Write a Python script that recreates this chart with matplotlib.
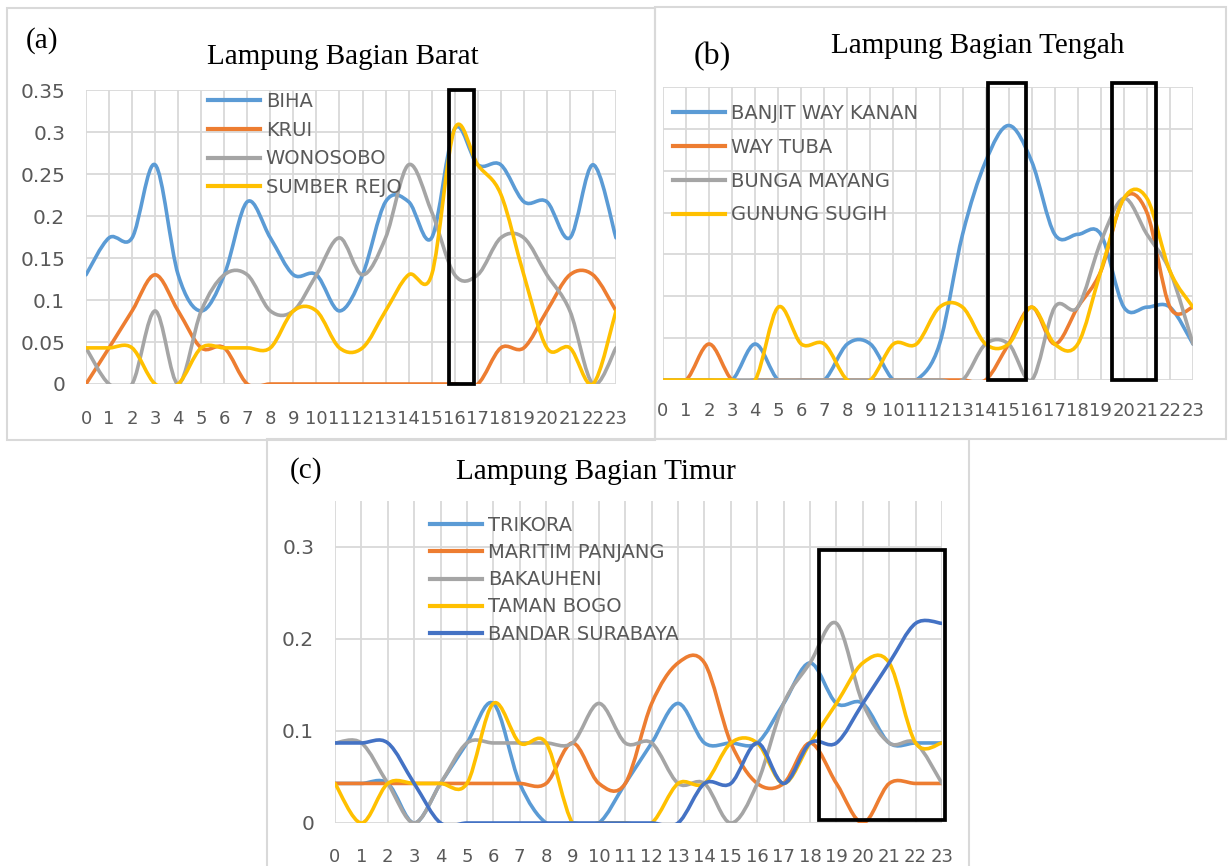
import matplotlib
matplotlib.use("Agg")
import matplotlib.pyplot as plt
import numpy as np
from matplotlib.path import Path
from matplotlib.patches import PathPatch, Rectangle
from matplotlib.lines import Line2D

HOURS = list(range(24))
HOUR_LABELS = [str(h) for h in HOURS]

# (a) Lampung Bagian Barat
BARAT_NAMES = ["BIHA", "KRUI", "WONOSOBO", "SUMBER REJO"]
BIHA = [0.13, 0.174, 0.174, 0.261, 0.13, 0.087, 0.13, 0.217, 0.174, 0.13, 0.13, 0.087,
        0.13, 0.217, 0.217, 0.174, 0.304, 0.261, 0.261, 0.217, 0.217, 0.174, 0.261, 0.174]
KRUI = [0, 0.043, 0.087, 0.13, 0.087, 0.043, 0.043, 0, 0, 0, 0, 0,
        0, 0, 0, 0, 0, 0, 0.043, 0.043, 0.087, 0.13, 0.13, 0.087]
WONOSOBO = [0.043, 0, 0, 0.087, 0, 0.087, 0.13, 0.13, 0.087, 0.087, 0.13, 0.174,
            0.13, 0.174, 0.261, 0.205, 0.13, 0.13, 0.174, 0.174, 0.13, 0.087, 0, 0.043]
SUMBER_REJO = [0.043, 0.043, 0.043, 0, 0, 0.043, 0.043, 0.043, 0.043, 0.087, 0.087, 0.043,
               0.043, 0.087, 0.13, 0.13, 0.304, 0.261, 0.226, 0.13, 0.043, 0.043, 0, 0.087]

# (b) Lampung Bagian Tengah
TENGAH_NAMES = ["BANJIT WAY KANAN", "WAY TUBA", "BUNGA MAYANG", "GUNUNG SUGIH"]
BANJIT = [0, 0, 0, 0, 0.043, 0, 0, 0, 0.043, 0.043, 0, 0,
          0.043, 0.174, 0.261, 0.304, 0.261, 0.174, 0.174, 0.174, 0.087, 0.087, 0.087, 0.043]
WAY_TUBA = [0, 0, 0.043, 0, 0, 0, 0, 0, 0, 0, 0, 0,
            0, 0, 0, 0.043, 0.087, 0.043, 0.087, 0.13, 0.217, 0.2, 0.087, 0.087]
BUNGA_MAYANG = [0, 0, 0, 0, 0, 0, 0, 0, 0, 0, 0, 0,
                0, 0, 0.043, 0.043, 0, 0.087, 0.087, 0.165, 0.217, 0.174, 0.13, 0.043]
GUNUNG_SUGIH = [0, 0, 0, 0, 0, 0.087, 0.043, 0.043, 0, 0, 0.043, 0.043,
                0.087, 0.087, 0.043, 0.043, 0.087, 0.043, 0.043, 0.13, 0.217, 0.217, 0.13, 0.087]

# (c) Lampung Bagian Timur
TIMUR_NAMES = ["TRIKORA", "MARITIM PANJANG", "BAKAUHENI", "TAMAN BOGO", "BANDAR SURABAYA"]
TRIKORA = [0.043, 0.043, 0.043, 0, 0.043, 0.087, 0.13, 0.043, 0, 0, 0, 0.043,
           0.087, 0.13, 0.087, 0.087, 0.087, 0.13, 0.174, 0.13, 0.13, 0.087, 0.087, 0.087]
MARITIM_PANJANG = [0.043, 0.043, 0.043, 0.043, 0.043, 0.043, 0.043, 0.043, 0.043, 0.087, 0.043, 0.043,
                   0.13, 0.174, 0.174, 0.087, 0.043, 0.043, 0.087, 0.043, 0, 0.043, 0.043, 0.043]
BAKAUHENI = [0.087, 0.087, 0.043, 0, 0.043, 0.087, 0.087, 0.087, 0.087, 0.087, 0.13, 0.087,
             0.087, 0.043, 0.043, 0, 0.043, 0.13, 0.174, 0.217, 0.13, 0.087, 0.087, 0.043]
TAMAN_BOGO = [0.043, 0, 0.043, 0.043, 0.043, 0.043, 0.13, 0.087, 0.087, 0, 0, 0,
              0, 0.043, 0.043, 0.087, 0.087, 0.043, 0.087, 0.13, 0.174, 0.174, 0.087, 0.087]
BANDAR_SURABAYA = [0.087, 0.087, 0.087, 0.043, 0, 0, 0, 0, 0, 0, 0, 0,
                   0, 0, 0.043, 0.043, 0.087, 0.043, 0.087, 0.087, 0.13, 0.174, 0.217, 0.217]

# highlighted hour windows (start, end, bottom, top)
BARAT_BOXES = [(15.75, 16.84, 0.0, 0.35)]
TENGAH_BOXES = [(14.1, 15.74, 0.0, 0.355), (19.5, 21.4, 0.0, 0.355)]
TIMUR_BOXES = [(18.35, 23.1, 0.003, 0.297)]

BLUE, ORANGE, GRAY, GOLD, NAVY = "#5B9BD5", "#ED7D31", "#A5A5A5", "#FFC000", "#4472C4"
TEXT = "#595959"
GRID = "#D9D9D9"
LW = 2.6

W, H = 1232, 866
fig = plt.figure(figsize=(W / 100, H / 100), dpi=100)


def px_axes(left, top, right, bottom):
    return fig.add_axes([left / W, 1 - bottom / H, (right - left) / W, (bottom - top) / H])


def smooth_path(x, y):
    # smoothed line as cubic Bezier segments with Catmull-Rom handles
    pts = np.column_stack([x, y]).astype(float)
    ext = np.vstack([pts[0], pts, pts[-1]])
    verts = [pts[0]]
    codes = [Path.MOVETO]
    for i in range(len(pts) - 1):
        p0, p1, p2, p3 = ext[i], ext[i + 1], ext[i + 2], ext[i + 3]
        verts += [p1 + (p2 - p0) / 6, p2 - (p3 - p1) / 6, p2]
        codes += [Path.CURVE4] * 3
    return Path(verts, codes)


def frame(left, top, right, bottom):
    fig.add_artist(Rectangle((left / W, 1 - bottom / H), (right - left) / W, (bottom - top) / H,
                             transform=fig.transFigure, fill=False, ec=GRID, lw=1.5))


def panel(ax, series, names, colors, boxes, yticks, ylabels, legend_xy, spacing, xpad):
    ax.set_xlim(0, 23)
    ax.set_ylim(0, 0.35)
    for s in ax.spines.values():
        s.set_visible(False)
    for h in HOURS:
        ax.axvline(h, color=GRID, lw=1.3, zorder=0)
    for v in yticks:
        ax.axhline(v, color=GRID, lw=1.3, zorder=0)
    for vals, c in zip(series, colors):
        line = PathPatch(smooth_path(HOURS, vals), fill=False, ec=c, lw=LW,
                         capstyle="round", joinstyle="round", zorder=3)
        # cut the overshoot just below the zero line
        line.set_clip_path(Rectangle((-1, -0.0025), 25, 1, transform=ax.transData))
        ax.add_patch(line)
    for x0, x1, y0, y1 in boxes:
        ax.add_patch(Rectangle((x0, y0), x1 - x0, y1 - y0, fill=False, ec="black",
                               lw=2.7, joinstyle="miter", clip_on=False, zorder=5))
    ax.set_xticks(HOURS)
    ax.set_xticklabels(HOUR_LABELS)
    ax.set_yticks(yticks)
    ax.set_yticklabels(ylabels)
    ax.tick_params(length=0, labelcolor=TEXT)
    ax.tick_params(axis="x", pad=xpad, labelsize=13)
    ax.tick_params(axis="y", pad=15, labelsize=14.5)
    handles = [Line2D([], [], color=c, lw=LW + 0.4) for c in colors]
    leg = ax.legend(handles, names, loc="upper left", frameon=False, fontsize=14,
                    bbox_to_anchor=(legend_xy[0] / W, 1 - legend_xy[1] / H),
                    bbox_transform=fig.transFigure, borderpad=0, borderaxespad=0,
                    handlelength=2.67, handletextpad=0.3, labelspacing=spacing)
    for t in leg.get_texts():
        t.set_color(TEXT)
    leg.set_zorder(4)


frame(7, 8, 655, 440)
frame(655, 7, 1226, 439)
frame(267, 439, 969, 880)

grid05 = [0, 0.05, 0.1, 0.15, 0.2, 0.25, 0.3, 0.35]

ax_a = px_axes(86, 90, 616, 384)
panel(ax_a, [BIHA, KRUI, WONOSOBO, SUMBER_REJO], BARAT_NAMES, [BLUE, ORANGE, GRAY, GOLD],
      BARAT_BOXES, grid05, ["0", "0.05", "0.1", "0.15", "0.2", "0.25", "0.3", "0.35"],
      (208, 92), 0.5, 19)

ax_b = px_axes(663, 87, 1193, 380)
panel(ax_b, [BANJIT, WAY_TUBA, BUNGA_MAYANG, GUNUNG_SUGIH], TENGAH_NAMES, [BLUE, ORANGE, GRAY, GOLD],
      TENGAH_BOXES, grid05, [""] * 8, (673, 104), 0.76, 16)

ax_c = px_axes(335, 501, 942, 823)
panel(ax_c, [TRIKORA, MARITIM_PANJANG, BAKAUHENI, TAMAN_BOGO, BANDAR_SURABAYA], TIMUR_NAMES,
      [BLUE, ORANGE, GRAY, GOLD, NAVY], TIMUR_BOXES, [0, 0.1, 0.2, 0.3], ["0", "0.1", "0.2", "0.3"],
      (430, 516), 0.42, 18)

serif = "Liberation Serif"
fig.text(343 / W, 1 - 57 / H, "Lampung Bagian Barat", ha="center", va="center", fontsize=21, family=serif)
fig.text(42 / W, 1 - 41 / H, "(a)", ha="center", va="center", fontsize=21, family=serif)
fig.text(978 / W, 1 - 46 / H, "Lampung Bagian Tengah", ha="center", va="center", fontsize=21, family=serif)
fig.text(712 / W, 1 - 57 / H, "(b)", ha="center", va="center", fontsize=23, family=serif)
fig.text(596 / W, 1 - 472 / H, "Lampung Bagian Timur", ha="center", va="center", fontsize=21, family=serif)
fig.text(306 / W, 1 - 471 / H, "(c)", ha="center", va="center", fontsize=21, family=serif)

fig.savefig("out.png", dpi=100)
